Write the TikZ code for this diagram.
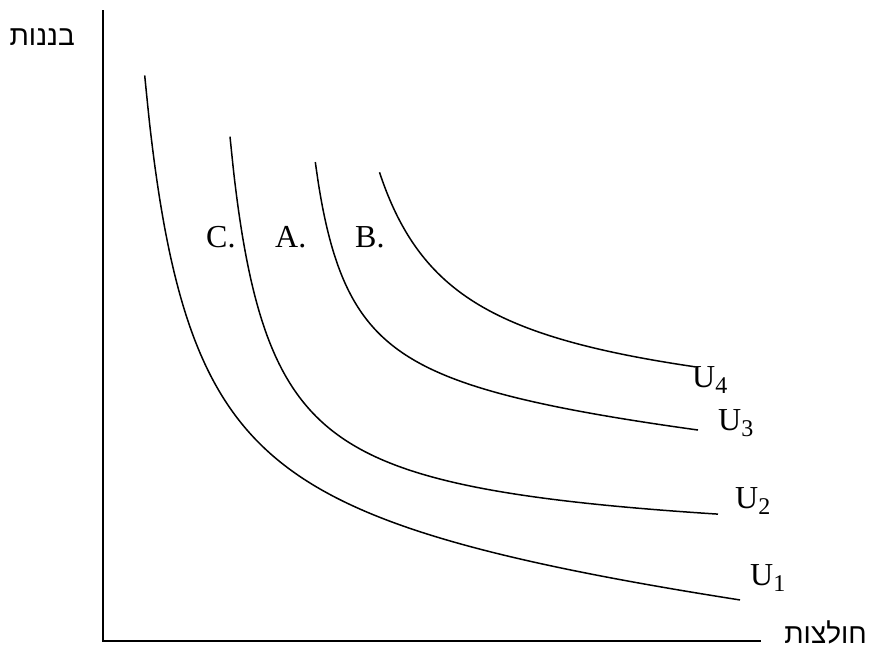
\documentclass[tikz,border=0pt]{standalone}
\usepackage{fontspec}
\setmainfont{Liberation Serif}
\newfontfamily\hebfont[Script=Hebrew]{Liberation Sans}
\TeXXeTstate=1
\begin{document}
\begin{tikzpicture}[x=1pt,y=-1pt,
  axis/.style={line width=2pt},
  curve/.style={line width=1.5pt, samples=120, smooth},
  lbl/.style={inner sep=0pt, anchor=base west, font=\fontsize{32}{36}\selectfont},
  heb/.style={inner sep=0pt, anchor=base east, font=\hebfont\fontsize{28}{32}\selectfont}]
\useasboundingbox (0,0) rectangle (870,649);
% axes
\coordinate (ytop) at (103,10);
\coordinate (O) at (103,641);
\coordinate (xend) at (761,641);
\draw[axis] (ytop) -- (O) -- (xend);
% indifference curves: y = a + b x - k/(x - x0)
\draw[curve] plot[domain=144.7:740] (\x, {562.5 + 0.0999*\x - 234.2/((\x-98)/100)});
\draw[curve] plot[domain=230:718] (\x, {536.7 + 0.009*\x - 152.8/((\x-192)/100)});
\draw[curve] plot[domain=315.3:698] (\x, {389.3 + 0.0884*\x - 87.5/((\x-281)/100)});
\draw[curve] plot[domain=379.5:695] (\x, {388.5 + 0.033*\x - 175/((\x-303)/100)});
% point labels
\node[lbl] (C) at (206,247) {C.};
\node[lbl] (A) at (275,247) {A.};
\node[lbl] (B) at (355,247) {B.};
% curve labels
\node[lbl] (U4) at (692,387) {U\raisebox{-6pt}{\fontsize{24}{24}\selectfont 4}};
\node[lbl] (U3) at (718,430) {U\raisebox{-6pt}{\fontsize{24}{24}\selectfont 3}};
\node[lbl] (U2) at (735,508) {U\raisebox{-6pt}{\fontsize{24}{24}\selectfont 2}};
\node[lbl] (U1) at (750,585) {U\raisebox{-6pt}{\fontsize{24}{24}\selectfont 1}};
% axis labels
\node[heb] (ylab) at (75,45) {\beginR בננות\endR};
\node[heb] (xlab) at (867,643) {\beginR חולצות\endR};
\end{tikzpicture}
\end{document}
